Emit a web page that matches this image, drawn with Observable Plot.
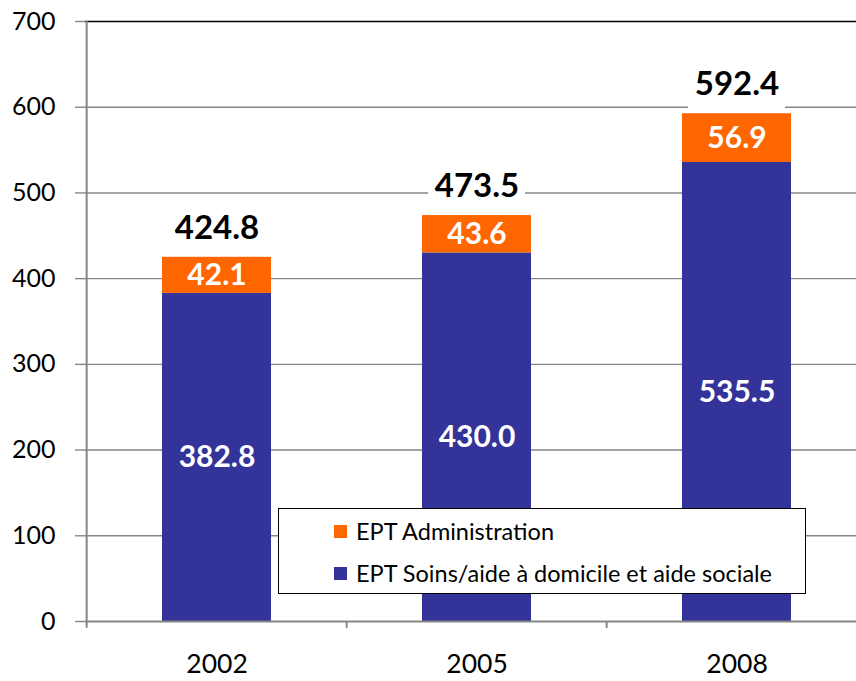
<!DOCTYPE html>
<html>
<head>
<meta charset="utf-8">
<script src="https://cdn.jsdelivr.net/npm/d3@7"></script>
<script src="https://cdn.jsdelivr.net/npm/@observablehq/plot@0.6"></script>
<style>
  html, body { margin: 0; padding: 0; background: #fff; }
  #wrap { position: relative; width: 856px; height: 681px; font-family: Lato, "Open Sans", sans-serif; }
  #legend { position: absolute; left: 278px; top: 508px; width: 526px; height: 84px; border: 1.5px solid #000; background: #fff; box-sizing: content-box; }
  .row { position: absolute; left: 55px; display: flex; align-items: center; font-size: 23.5px; color: #000; }
  .sw { width: 13px; height: 13px; margin-right: 9px; }
</style>
</head>
<body>
<div id="wrap">
  <div id="chart"></div>
  <div id="legend"></div>
</div>
<script>
const years = ["2002", "2005", "2008"];
const soins = [382.8, 430.0, 535.5];
const admin = [42.1, 43.6, 56.9];
const totals = [424.8, 473.5, 592.4];
const yTicks = [0, 100, 200, 300, 400, 500, 600, 700];
const seriesNames = ["EPT Administration", "EPT Soins/aide à domicile et aide sociale"];
const seriesColors = ["#FF6600", "#333399"];

const rows = [];
years.forEach((yr, i) => {
  rows.push({year: yr, series: seriesNames[1], y1: 0, y2: soins[i], value: soins[i]});
  rows.push({year: yr, series: seriesNames[0], y1: soins[i], y2: soins[i] + admin[i], value: admin[i]});
});
const totalRows = years.map((yr, i) => ({year: yr, total: totals[i]}));

const step = (867 - 85) / years.length;
const gray = "#868686";
const font = "Lato, 'Open Sans', sans-serif";

const chart = Plot.plot({
  width: 856,
  height: 681,
  marginLeft: 85,
  marginRight: 0,
  marginTop: 21,
  marginBottom: 60,
  style: {fontFamily: font, background: "#fff", overflow: "visible"},
  x: {type: "band", domain: years, range: [85, 867], paddingInner: 0.582, paddingOuter: 0.291, axis: null, label: null},
  y: {domain: [0, 700], axis: null, label: null},
  color: {domain: seriesNames, range: seriesColors},
  marks: [
    Plot.ruleY(yTicks.filter(t => t > 0 && t < 700), {y: d => d, stroke: gray, strokeWidth: 1.4}),
    Plot.ruleY([700], {y: d => d, stroke: "#000", strokeWidth: 1.6}),
    Plot.barY(totalRows, {x: "year", y1: d => d.total + 4, y2: d => d.total + 58, fill: "#fff", insetLeft: 6, insetRight: 6}),
    Plot.barY(rows, {x: "year", y1: "y1", y2: "y2", fill: "series"}),
    Plot.ruleY([0], {y: d => d, stroke: gray, strokeWidth: 2}),
    Plot.ruleX([years[0]], {x: d => d, y1: -8, y2: 700, dx: -step / 2, stroke: gray, strokeWidth: 2}),
    Plot.ruleX(years.slice(1), {x: d => d, y1: -8, y2: 0, dx: -step / 2, stroke: gray, strokeWidth: 2}),
    Plot.axisY({ticks: yTicks, tickSize: 10, tickPadding: 20, fontSize: 25, stroke: gray, strokeWidth: 1.4, fill: "#000", tickFormat: d => String(d), label: null}),
    Plot.axisX({tickSize: 0, tickPadding: 33, fontSize: 26.5, fill: "#000", label: null}),
    Plot.text(rows, {x: "year", y: d => (d.y1 + d.y2) / 2, text: d => d.value.toFixed(1), fill: "#fff", fontSize: 30, fontWeight: "bold"}),
    Plot.text(totalRows, {x: "year", y: "total", text: d => d.total.toFixed(1), dy: -29, fill: "#000", fontSize: 33, fontWeight: "bold"})
  ]
});
document.getElementById("chart").appendChild(chart);

const legend = document.getElementById("legend");
seriesNames.forEach((name, i) => {
  const row = document.createElement("div");
  row.className = "row";
  row.style.top = (i === 0 ? 8 : 50) + "px";
  const sw = document.createElement("div");
  sw.className = "sw";
  sw.style.background = seriesColors[i];
  const label = document.createElement("span");
  label.textContent = name;
  row.appendChild(sw);
  row.appendChild(label);
  legend.appendChild(row);
});
</script>
</body>
</html>
